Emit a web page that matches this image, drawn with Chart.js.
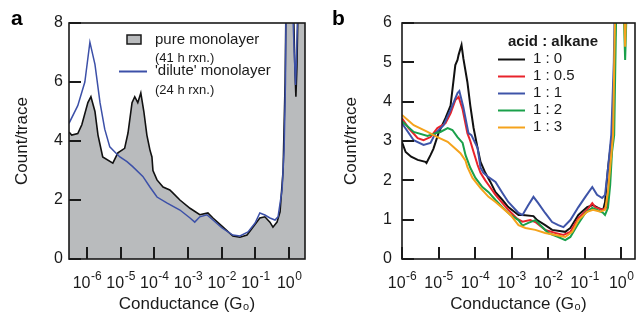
<!DOCTYPE html>
<html>
<head>
<meta charset="utf-8">
<script src="https://cdn.jsdelivr.net/npm/chart.js@4.4.1/dist/chart.umd.min.js"></script>
<style>
  body { margin: 0; background: #fff; }
  #wrap { position: relative; width: 638px; height: 317px; }
  canvas { position: absolute; top: 0; }
  #chartA { left: 0; }
  #chartB { left: 319px; }
</style>
</head>
<body>
<div id="wrap">
  <canvas id="chartA" width="319" height="317"></canvas>
  <canvas id="chartB" width="319" height="317"></canvas>
</div>
<script>
// x values are log10(G/G0)
const decadesA = [-6, -5, -4, -3, -2, -1, 0];
const decadesB = [-6, -5, -4, -3, -2, -1, 0];
const yTicksA = [0, 2, 4, 6, 8];
const yTicksB = [0, 1, 2, 3, 4, 5, 6];

// panel a
const aPureX = [-6.53,-6.45,-6.27,-6.15,-5.97,-5.88,-5.76,-5.67,-5.53,-5.23,-5.08,-4.88,-4.78,-4.66,-4.58,-4.49,-4.40,-4.31,-4.22,-4.13,-4.07,-4.04,-3.92,-3.74,-3.54,-3.45,-3.24,-2.94,-2.65,-2.41,-2.26,-1.96,-1.67,-1.46,-1.25,-1.07,-0.87,-0.72,-0.57,-0.48,-0.36,-0.27,-0.18,-0.12,-0.09,0.12,0.17,0.20,0.23,0.27,0.47];
const aPureY = [4.3,4.2,4.25,4.55,5.3,5.5,5.0,4.2,3.46,3.25,3.6,3.75,4.27,5.3,5.5,5.3,5.63,5.0,4.2,3.7,3.46,3.0,2.68,2.44,2.34,2.24,2.0,1.72,1.5,1.56,1.39,1.08,0.78,0.74,0.81,1.08,1.39,1.43,1.25,1.08,1.25,1.6,3.0,6,9,9,6.5,5.5,6.5,9,9];
const aDiluteX = [-6.53,-6.27,-6.06,-5.91,-5.76,-5.61,-5.47,-5.32,-5.17,-5.02,-4.81,-4.64,-4.34,-4.13,-3.92,-3.63,-3.24,-2.94,-2.80,-2.65,-2.44,-2.26,-1.99,-1.67,-1.46,-1.22,-1.01,-0.87,-0.72,-0.57,-0.42,-0.33,-0.21,-0.15,-0.11,-0.09,0.09,0.15,0.19,0.22,0.27,0.47];
const aDiluteY = [4.6,5.2,6.0,7.35,6.6,5.3,4.4,3.8,3.63,3.46,3.3,3.13,2.8,2.44,2.1,1.9,1.66,1.39,1.25,1.43,1.5,1.32,1.05,0.81,0.78,0.92,1.22,1.56,1.49,1.39,1.32,1.43,2.34,3.7,6,9,9,7,5.9,7,9,9];
const aLabels = ['pure monolayer', "'dilute' monolayer"];
const aNotes = ['(41 h rxn.)', '(24 h rxn.)'];

// panel b
const bLabels = ['1 : 0', '1 : 0.5', '1 : 1', '1 : 2', '1 : 3'];
const b10X = [-6.0,-5.90,-5.75,-5.57,-5.36,-5.33,-5.22,-5.14,-5.0,-4.81,-4.67,-4.54,-4.48,-4.45,-4.37,-4.32,-4.21,-4.13,-4.04,-3.93,-3.85,-3.72,-3.58,-3.44,-3.25,-3.09,-2.81,-2.70,-2.40,-2.30,-2.08,-1.89,-1.53,-1.39,-1.17,-0.93,-0.77,-0.63,-0.49,-0.44,-0.36,-0.25,-0.18,-0.12,0.05,0.11,0.16,0.4];
const b10Y = [2.97,2.72,2.6,2.52,2.47,2.44,2.64,2.8,3.2,3.58,3.9,4.93,5.06,5.19,5.44,5.1,4.5,3.9,3.33,2.82,2.47,2.19,1.96,1.7,1.5,1.32,1.12,1.12,1.09,0.99,0.86,0.74,0.69,0.79,1.12,1.32,1.37,1.30,1.25,1.45,2.3,3.15,5,8,8,6.5,8,8];
const b105X = [-6.0,-5.82,-5.57,-5.41,-5.22,-5.03,-4.81,-4.67,-4.54,-4.45,-4.34,-4.21,-4.13,-4.04,-3.93,-3.85,-3.72,-3.63,-3.44,-3.25,-3.09,-2.84,-2.70,-2.49,-2.35,-2.08,-1.80,-1.58,-1.39,-1.17,-0.93,-0.79,-0.71,-0.52,-0.38,-0.33,-0.25,-0.18,-0.12,0.05,0.11,0.16,0.4];
const b105Y = [3.58,3.33,3.07,3.02,3.1,3.33,3.45,3.7,4.04,4.12,3.8,3.2,3.0,2.72,2.39,2.19,2.0,1.88,1.63,1.42,1.25,1.02,0.95,0.99,0.94,0.74,0.66,0.61,0.69,1.04,1.25,1.42,1.32,1.25,1.32,1.88,2.9,5,8,8,6.6,8,8];
const b11X = [-6.0,-5.68,-5.41,-5.22,-5.08,-4.86,-4.67,-4.48,-4.43,-4.32,-4.18,-4.10,-3.93,-3.85,-3.77,-3.63,-3.44,-3.25,-3.09,-2.81,-2.70,-2.54,-2.40,-2.27,-2.08,-1.89,-1.72,-1.58,-1.39,-1.17,-0.98,-0.79,-0.66,-0.52,-0.44,-0.36,-0.27,-0.20,-0.15,0.05,0.11,0.16,0.4];
const b11Y = [3.45,3.02,2.9,2.95,3.2,3.4,3.79,4.22,4.27,3.86,3.2,3.15,2.82,2.32,2.19,2.08,1.96,1.68,1.45,1.17,1.12,1.37,1.58,1.42,1.17,0.94,0.86,0.81,0.99,1.32,1.58,1.83,1.63,1.55,1.63,2.3,3.15,5,8,8,6.6,8,8];
const b12X = [-6.0,-5.68,-5.30,-5.08,-4.95,-4.75,-4.62,-4.48,-4.34,-4.26,-4.13,-3.99,-3.80,-3.63,-3.44,-3.25,-3.03,-2.81,-2.70,-2.54,-2.35,-2.21,-1.99,-1.72,-1.53,-1.39,-1.20,-0.98,-0.79,-0.66,-0.49,-0.44,-0.36,-0.30,-0.25,-0.19,-0.14,-0.10,0.05,0.08,0.11,0.14,0.18,0.4];
const b12Y = [3.5,3.23,3.13,3.2,3.23,3.33,3.28,3.1,2.95,2.64,2.32,2.06,1.83,1.7,1.5,1.32,1.12,0.99,0.85,0.92,0.99,0.86,0.66,0.56,0.48,0.56,0.86,1.17,1.3,1.25,1.17,1.12,1.3,1.88,2.72,3.15,6,8,8,6,5.06,6,8,8];
const b13X = [-6.0,-5.68,-5.30,-5.03,-4.75,-4.59,-4.40,-4.26,-4.21,-4.07,-3.85,-3.63,-3.44,-3.25,-3.03,-2.81,-2.62,-2.35,-2.08,-1.80,-1.53,-1.34,-1.17,-0.93,-0.77,-0.57,-0.44,-0.36,-0.27,-0.22,-0.17,-0.12,0.05,0.08,0.11,0.14,0.18,0.4];
const b13Y = [3.66,3.4,3.23,3.1,2.98,2.85,2.69,2.5,2.34,2.06,1.8,1.58,1.45,1.3,1.12,0.86,0.79,0.74,0.66,0.61,0.56,0.69,0.99,1.2,1.25,1.2,1.25,1.7,2.64,3.15,6,8,8,6.5,5.4,6.5,8,8];

const FONT = '"Liberation Sans", Arial, sans-serif';
const INK = '#1a1a1a';
Chart.defaults.font.family = FONT;
Chart.defaults.color = INK;

function pts(xs, ys) {
  return xs.map((x, i) => ({ x: x, y: ys[i] }));
}

// box round the plot, inward ticks, and 10^n labels with a real superscript
function makeFrame(decades, yTicks) {
  return {
    id: 'frameTicks',
    afterDraw(chart) {
      const ctx = chart.ctx;
      const a = chart.chartArea;
      const xs = chart.scales.x;
      const ys = chart.scales.y;
      ctx.save();
      ctx.strokeStyle = INK;
      ctx.lineWidth = 1.6;
      ctx.strokeRect(a.left, a.top, a.right - a.left, a.bottom - a.top);

      ctx.fillStyle = INK;
      decades.forEach(v => {
        const px = Math.round(xs.getPixelForValue(v));
        ctx.fillRect(px - 1, a.bottom - 12, 2, 12);
      });
      yTicks.forEach(v => {
        const py = Math.round(ys.getPixelForValue(v));
        ctx.fillRect(a.left, py - 1, 12, 2);
      });

      ctx.textBaseline = 'alphabetic';
      ctx.textAlign = 'left';
      decades.forEach(v => {
        const px = xs.getPixelForValue(v);
        const sup = String(v);
        ctx.font = '16px ' + FONT;
        const w1 = ctx.measureText('10').width;
        ctx.font = '12px ' + FONT;
        const w2 = ctx.measureText(sup).width;
        const x0 = px - (w1 + w2) / 2;
        ctx.font = '16px ' + FONT;
        ctx.fillText('10', x0, a.bottom + 29);
        ctx.font = '12px ' + FONT;
        ctx.fillText(sup, x0 + w1 + 0.5, a.bottom + 21);
      });
      ctx.restore();
    }
  };
}

const legendA = {
  id: 'legendA',
  afterDraw(chart) {
    const ctx = chart.ctx;
    const dilute = chart.data.datasets[0];
    const pure = chart.data.datasets[1];
    ctx.save();
    ctx.fillStyle = '#000';
    ctx.font = 'bold 21px ' + FONT;
    ctx.textBaseline = 'alphabetic';
    ctx.fillText('a', 11, 25);

    ctx.fillStyle = pure.backgroundColor;
    ctx.fillRect(127, 35, 14, 9);
    ctx.strokeStyle = INK;
    ctx.lineWidth = 1.5;
    ctx.strokeRect(127, 35, 14, 9);

    ctx.beginPath();
    ctx.moveTo(119, 71.5);
    ctx.lineTo(147, 71.5);
    ctx.strokeStyle = dilute.borderColor;
    ctx.lineWidth = 2;
    ctx.stroke();

    ctx.fillStyle = INK;
    ctx.textBaseline = 'middle';
    ctx.font = '15px ' + FONT;
    ctx.fillText(pure.label, 155, 40);
    ctx.fillText(dilute.label, 155, 71);
    ctx.font = '13px ' + FONT;
    ctx.fillText(aNotes[0], 155, 58);
    ctx.fillText(aNotes[1], 155, 90);
    ctx.restore();
  }
};

const legendB = {
  id: 'legendB',
  afterDraw(chart) {
    const ctx = chart.ctx;
    ctx.save();
    ctx.fillStyle = '#000';
    ctx.font = 'bold 21px ' + FONT;
    ctx.textBaseline = 'alphabetic';
    ctx.fillText('b', 13, 25);

    ctx.textBaseline = 'middle';
    ctx.font = 'bold 15px ' + FONT;
    ctx.fillStyle = INK;
    ctx.fillText('acid : alkane', 189, 42);
    const rows = [59, 76, 93, 110, 127];
    chart.data.datasets.forEach((ds, i) => {
      ctx.beginPath();
      ctx.moveTo(179, rows[i] + 0.5);
      ctx.lineTo(206, rows[i] + 0.5);
      ctx.strokeStyle = ds.borderColor;
      ctx.lineWidth = 2;
      ctx.stroke();
      ctx.font = '15px ' + FONT;
      ctx.fillStyle = INK;
      ctx.fillText(ds.label, 214, rows[i]);
    });
    ctx.restore();
  }
};

function axes(xMin, xMax, yMax, yStep, yWidth, yTitlePad, yTickPad) {
  return {
    x: {
      type: 'linear',
      min: xMin,
      max: xMax,
      afterFit: s => { s.height = 58; },
      grid: { display: false, drawTicks: false },
      border: { display: false },
      ticks: { display: false },
      title: { display: true, text: 'Conductance (G\u2080)', font: { size: 17 }, color: INK, padding: { top: 0, bottom: 2 } }
    },
    y: {
      min: 0,
      max: yMax,
      afterFit: s => { s.width = yWidth; },
      grid: { display: false, drawTicks: false },
      border: { display: false },
      ticks: { stepSize: yStep, font: { size: 16 }, color: INK, padding: yTickPad },
      title: { display: true, text: 'Count/trace', font: { size: 17 }, color: INK, padding: { top: yTitlePad, bottom: 0 } }
    }
  };
}

new Chart(document.getElementById('chartA'), {
  type: 'line',
  data: {
    datasets: [
      { label: aLabels[1], data: pts(aDiluteX, aDiluteY), borderColor: '#3c50a8', borderWidth: 1.5, fill: false },
      { label: aLabels[0], data: pts(aPureX, aPureY), borderColor: '#111', borderWidth: 1.6, backgroundColor: '#b9bbbd', fill: 'origin' }
    ]
  },
  options: {
    responsive: false,
    animation: false,
    elements: { point: { radius: 0 }, line: { tension: 0 } },
    layout: { padding: { left: 0, top: 23, right: 14, bottom: 0 } },
    plugins: { legend: { display: false }, tooltip: { enabled: false } },
    scales: axes(-6.53, 0.47, 8, 2, 69, 12, 6)
  },
  plugins: [makeFrame(decadesA, yTicksA), legendA]
});

const bColors = ['#111111', '#e8232b', '#3e54a8', '#1aa04a', '#f5a31c'];
const bSeries = [[b10X, b10Y], [b105X, b105Y], [b11X, b11Y], [b12X, b12Y], [b13X, b13Y]];

new Chart(document.getElementById('chartB'), {
  type: 'line',
  data: {
    datasets: bSeries.map((s, i) => ({
      label: bLabels[i],
      data: pts(s[0], s[1]),
      borderColor: bColors[i],
      borderWidth: 2,
      fill: false,
      order: 5 - i
    }))
  },
  options: {
    responsive: false,
    animation: false,
    elements: { point: { radius: 0 }, line: { tension: 0 } },
    layout: { padding: { left: 0, top: 23, right: 3, bottom: 0 } },
    plugins: { legend: { display: false }, tooltip: { enabled: false } },
    scales: axes(-6.0, 0.38, 6, 1, 83, 22, 10)
  },
  plugins: [makeFrame(decadesB, yTicksB), legendB]
});
</script>
</body>
</html>
